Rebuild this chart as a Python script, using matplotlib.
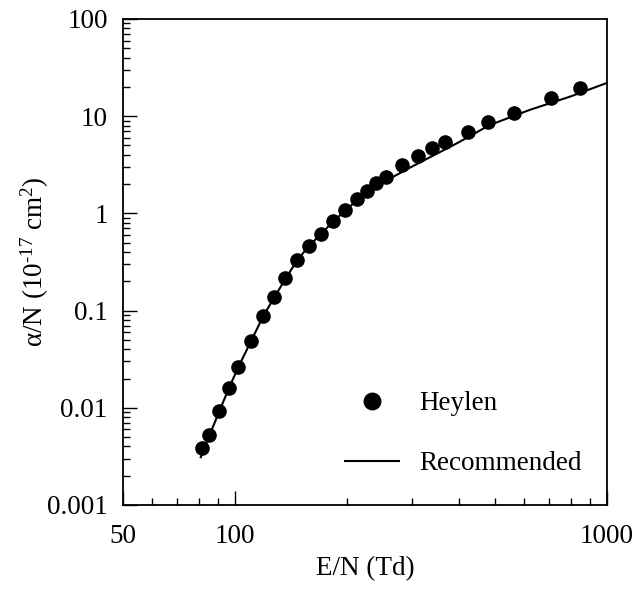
"""Townsend ionisation coefficient alpha/N vs E/N: Heylen data and recommended curve."""

import matplotlib
matplotlib.use("Agg")
import matplotlib.pyplot as plt
from matplotlib.ticker import FixedLocator, FixedFormatter, LogLocator, NullFormatter

# Heylen measurements
heylen_en = [81.7, 85.1, 90.6, 96.4, 102, 110.2, 118.7, 127.5, 136.3, 146.5,
             158.4, 170, 183.7, 197.2, 212.5, 225.9, 239.3, 254.7, 281.7, 311,
             339.2, 366.9, 423.8, 479.6, 563.4, 707, 846]
heylen_alpha = [0.00383, 0.00525, 0.00933, 0.0161, 0.0261, 0.0487, 0.088, 0.139,
                0.215, 0.332, 0.462, 0.614, 0.841, 1.08, 1.40, 1.71, 2.04, 2.39,
                3.11, 3.90, 4.67, 5.47, 6.93, 8.65, 10.9, 15.5, 19.4]

# recommended curve
rec_en = [80.9, 85, 90, 96, 102, 110, 119, 128, 137, 147, 158, 170, 184, 197,
          212, 226, 245, 301, 395, 484, 620, 800, 1000]
rec_alpha = [0.0031, 0.0050, 0.0085, 0.0155, 0.026, 0.047, 0.087, 0.14, 0.215,
             0.33, 0.46, 0.61, 0.83, 1.05, 1.35, 1.62, 2.0, 3.07, 5.26, 8.1,
             11.6, 16.0, 22.0]

x_ticks = [50, 100, 1000]
x_labels = ["50", "100", "1000"]
y_ticks = [0.001, 0.01, 0.1, 1, 10, 100]
y_labels = ["0.001", "0.01", "0.1", "1", "10", "100"]

plt.rcParams.update({
    "font.family": "Liberation Serif",
    "font.size": 19.5,
    "mathtext.fontset": "custom",
    "mathtext.rm": "Liberation Serif",
    "mathtext.it": "Liberation Serif:italic",
    "mathtext.default": "regular",
})

fig = plt.figure(figsize=(6.36, 5.92), dpi=100)
ax = fig.add_axes([0.1934, 0.147, 0.761, 0.821])

ax.plot(heylen_en, heylen_alpha, "o", color="black", markersize=9.5,
        linestyle="none", label="Heylen")
ax.plot(rec_en, rec_alpha, "-", color="black", linewidth=1.5, label="Recommended")

ax.set_xscale("log")
ax.set_yscale("log")
ax.set_xlim(50, 1000)
ax.set_ylim(0.001, 100)

ax.xaxis.set_major_locator(FixedLocator(x_ticks))
ax.xaxis.set_major_formatter(FixedFormatter(x_labels))
ax.xaxis.set_minor_locator(LogLocator(base=10, subs=range(2, 10)))
ax.xaxis.set_minor_formatter(NullFormatter())
ax.yaxis.set_major_locator(FixedLocator(y_ticks))
ax.yaxis.set_major_formatter(FixedFormatter(y_labels))
ax.yaxis.set_minor_locator(LogLocator(base=10, subs=range(2, 10)))
ax.yaxis.set_minor_formatter(NullFormatter())

ax.tick_params(which="both", direction="in", top=False, right=False, width=1.0)
ax.tick_params(which="major", length=10)
ax.tick_params(which="minor", length=5)
ax.tick_params(axis="x", which="major", pad=14)
ax.tick_params(axis="y", which="major", pad=11)
for spine in ax.spines.values():
    spine.set_linewidth(1.3)

ax.set_xlabel("E/N (Td)", labelpad=5)
ax.set_ylabel("$\\alpha$/N (10$^{\u201017}$ cm$^{2}$)", labelpad=-3)

ax.legend(loc="upper left", bbox_to_anchor=(0.459, 0.234), frameon=False,
          borderpad=0, borderaxespad=0, labelspacing=1.3, handlelength=2.0,
          handletextpad=0.75, markerscale=1.25)

fig.savefig("out.png", dpi=100)
